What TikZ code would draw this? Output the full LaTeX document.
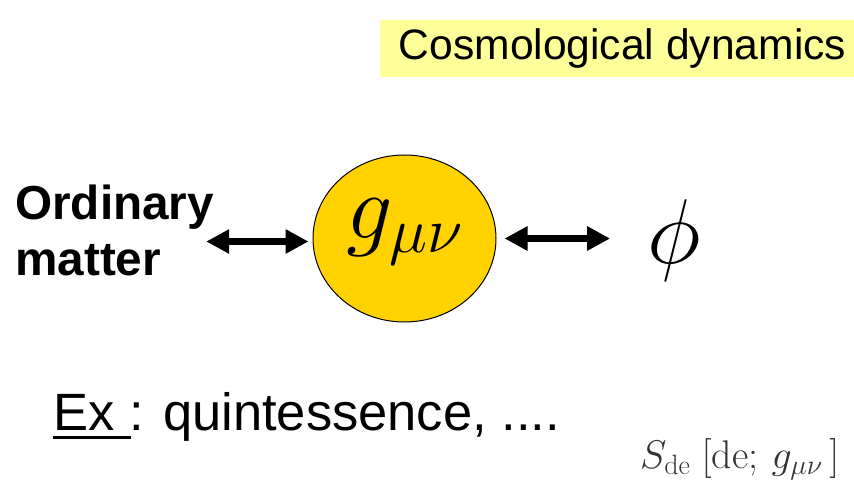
\RequirePackage{fix-cm}
\documentclass[tikz,border=0pt]{standalone}
\usepackage{fontspec}
\setsansfont{Liberation Sans}
\usepackage{tikz}
\usetikzlibrary{arrows.meta,shapes.geometric}
\DeclareMathSizes{40}{40}{28}{20}
\definecolor{CDYellow}{HTML}{FFFF99}
\definecolor{CDGold}{HTML}{FFD200}
\tikzset{
  titlebox/.style={inner sep=0,font=\sffamily\fontsize{42.6}{50}\selectfont},
  metricdisk/.style={ellipse,draw,line width=1pt,fill=CDGold,minimum width=183pt,minimum height=167pt,
    inner sep=0,text height=40pt,text depth=40pt},
  link/.style={line width=7pt,{Triangle[length=23pt,width=23pt]}-{Triangle[length=23pt,width=23pt]}}
}
\begin{document}
\begin{tikzpicture}[x=1pt,y=1pt]
\path[use as bounding box] (0,0) rectangle (854,482);
\fill[CDYellow] (380,405) rectangle (854,462);
\node[titlebox] (title) at (622.5,433.5) {Cosmological dynamics};
\node[anchor=west,align=left,inner sep=0,font=\sffamily\bfseries\fontsize{47.7}{56}\selectfont] (matter) at (15,252) {Ordinary\\matter};
\node[metricdisk] (metric) at (404.5,243.5) {\fontsize{92}{110}\selectfont$g_{\mu\nu}$};
\node[anchor=base,inner sep=0] (phi) at (674,218) {\fontsize{92}{110}\selectfont$\phi$};
\draw[link,shorten <=-8pt,shorten >=4pt] ([yshift=-3pt]matter.east |- metric.west) -- ([yshift=-3pt]metric.west);
\draw[link,shorten <=8pt,shorten >=37pt] (metric.east) -- (metric.east -| phi.west);
\node[anchor=base west,inner sep=0,font=\sffamily\fontsize{52.5}{62}\selectfont] (example) at (53,52) {\makebox[0pt][l]{\rule[-9pt]{78pt}{3pt}}Ex : quintessence, ....};
\node[anchor=base west,inner sep=0,text=black!80] (action) at (640,14) {\fontsize{40}{48}\selectfont$S_{\mathrm{de}}\;[\mathrm{de};\,g_{\mu\nu}\,]$};
\end{tikzpicture}
\end{document}
